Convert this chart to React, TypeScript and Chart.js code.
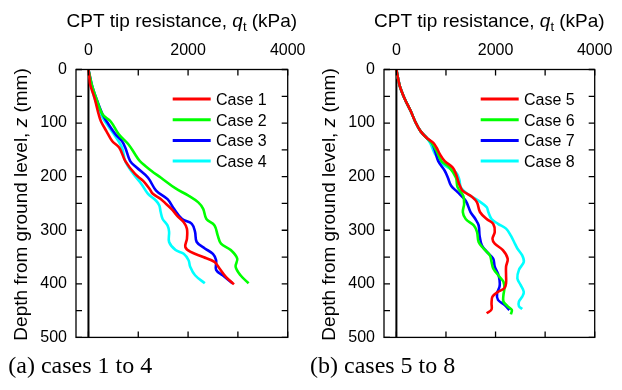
import React, { useEffect, useRef } from "react";
import { Chart, registerables } from "chart.js";

Chart.register(...registerables);

// ---------- axis definitions ----------
const xTickValues = [0, 2000, 4000];
const xMinorTicks = [0, 1000, 2000, 3000, 4000];
const yTickValues = [0, 100, 200, 300, 400, 500];
const yMinorTicks = [0, 50, 100, 150, 200, 250, 300, 350, 400, 450, 500];
const X_MIN = -250;
const X_MAX = 4000;
const Y_MIN = 0;
const Y_MAX = 500;

const xTitleText = "CPT tip resistance, ";
const xTitleVar = "q";
const xTitleSub = "t";
const xTitleUnit = " (kPa)";
const yTitleText = "Depth from ground level, ";
const yTitleVar = "z";
const yTitleUnit = " (mm)";

const captionA = "(a) cases 1 to 4";
const captionB = "(b) cases 5 to 8";

const seriesColors = ["#ff0000", "#00ff00", "#0000ff", "#00ffff"];
const labelsA = ["Case 1", "Case 2", "Case 3", "Case 4"];
const labelsB = ["Case 5", "Case 6", "Case 7", "Case 8"];

// ---------- panel (a) data: depth z (mm) and q_t (kPa) ----------
const case1Depth = [0, 15, 29, 53, 84, 97, 115, 134, 146, 171, 195, 208, 223, 232, 242, 251, 262, 273, 285, 297, 316, 331, 340, 350, 359, 371, 387, 401];
const case1Q = [0, 20, 37, 121, 206, 252, 360, 479, 620, 740, 935, 1098, 1229, 1293, 1456, 1560, 1684, 1782, 1913, 1977, 1977, 1944, 2042, 2304, 2530, 2628, 2759, 2921];

const case2Depth = [0, 29, 53, 84, 97, 121, 140, 158, 171, 189, 202, 222, 235, 248, 260, 279, 291, 310, 325, 337, 353, 368, 384, 399];
const case2Q = [0, 69, 154, 284, 447, 610, 805, 935, 1033, 1261, 1456, 1750, 2000, 2205, 2303, 2368, 2531, 2596, 2661, 2857, 2987, 2954, 3052, 3215];

const case3Depth = [0, 29, 53, 84, 99, 121, 134, 146, 171, 183, 202, 226, 242, 260, 279, 288, 303, 322, 334, 344, 356, 374, 384, 399];
const case3Q = [0, 69, 154, 284, 381, 545, 675, 740, 838, 968, 1196, 1358, 1587, 1717, 1880, 2075, 2140, 2173, 2336, 2499, 2563, 2563, 2694, 2889];

const case4Depth = [0, 29, 53, 84, 99, 121, 146, 171, 195, 214, 232, 245, 254, 266, 279, 291, 303, 322, 337, 344, 356, 368, 384, 399];
const case4Q = [0, 56, 121, 251, 349, 512, 675, 740, 903, 1066, 1196, 1358, 1423, 1450, 1489, 1587, 1619, 1619, 1749, 1912, 2010, 2042, 2140, 2336];

// ---------- panel (b) data ----------
const case5Depth = [0, 29, 53, 78, 99, 115, 128, 137, 146, 158, 171, 183, 195, 214, 226, 238, 248, 266, 279, 288, 303, 316, 325, 337, 353, 368, 384, 399, 408, 415, 424, 436, 448, 455];
const case5Q = [0, 63, 160, 291, 388, 486, 615, 746, 811, 877, 975, 1137, 1202, 1268, 1333, 1528, 1626, 1685, 1821, 1952, 1984, 1938, 1984, 2148, 2245, 2212, 2212, 2212, 2179, 2049, 1938, 1919, 1919, 1821];

const case6Depth = [0, 29, 53, 78, 99, 115, 128, 137, 152, 171, 183, 202, 220, 236, 251, 266, 279, 291, 303, 322, 334, 347, 359, 371, 387, 396, 408, 421, 433, 442, 449, 457];
const case6Q = [0, 63, 160, 291, 388, 486, 615, 714, 811, 909, 1072, 1202, 1235, 1350, 1366, 1340, 1398, 1561, 1626, 1659, 1756, 1886, 1919, 1952, 2081, 2159, 2179, 2159, 2159, 2245, 2329, 2309];

const case7Depth = [0, 29, 53, 78, 99, 115, 128, 137, 152, 171, 189, 202, 217, 229, 245, 266, 279, 291, 310, 328, 340, 353, 368, 381, 393, 405, 418, 430, 439, 449];
const case7Q = [0, 63, 160, 291, 388, 486, 615, 714, 780, 844, 975, 1039, 1104, 1235, 1398, 1495, 1593, 1659, 1678, 1723, 1821, 1952, 1984, 2049, 2081, 2081, 2030, 2049, 2179, 2277];

const case8Depth = [0, 29, 53, 78, 99, 115, 128, 137, 158, 177, 192, 205, 220, 232, 245, 257, 266, 279, 288, 297, 310, 322, 334, 347, 359, 374, 390, 402, 415, 424, 433, 442, 447];
const case8Q = [0, 63, 160, 291, 388, 486, 615, 681, 780, 942, 1202, 1268, 1300, 1430, 1659, 1821, 1854, 1919, 2049, 2212, 2309, 2374, 2440, 2538, 2570, 2472, 2440, 2505, 2570, 2538, 2472, 2472, 2538];

const SANS = "'Liberation Sans', Arial, sans-serif";
const SERIF = "'Liberation Serif', 'Times New Roman', serif";

type Series = { label: string; color: string; depth: number[]; q: number[] };

const seriesA: Series[] = [
  { label: labelsA[0], color: seriesColors[0], depth: case1Depth, q: case1Q },
  { label: labelsA[1], color: seriesColors[1], depth: case2Depth, q: case2Q },
  { label: labelsA[2], color: seriesColors[2], depth: case3Depth, q: case3Q },
  { label: labelsA[3], color: seriesColors[3], depth: case4Depth, q: case4Q },
];
const seriesB: Series[] = [
  { label: labelsB[0], color: seriesColors[0], depth: case5Depth, q: case5Q },
  { label: labelsB[1], color: seriesColors[1], depth: case6Depth, q: case6Q },
  { label: labelsB[2], color: seriesColors[2], depth: case7Depth, q: case7Q },
  { label: labelsB[3], color: seriesColors[3], depth: case8Depth, q: case8Q },
];

type Seg = { t: string; font: string; dy?: number };

function drawRich(ctx: CanvasRenderingContext2D, segs: Seg[], cx: number, baseY: number) {
  let total = 0;
  const widths = segs.map((s) => {
    ctx.font = s.font;
    const w = ctx.measureText(s.t).width;
    total += w;
    return w;
  });
  let x = cx - total / 2;
  ctx.textAlign = "left";
  ctx.textBaseline = "alphabetic";
  segs.forEach((s, i) => {
    ctx.font = s.font;
    ctx.fillText(s.t, x, baseY + (s.dy || 0));
    x += widths[i];
  });
}

const CA_LEFT = 76;
const CA_TOP = 69.5;
const CA_RIGHT = 293.6;
const CA_BOTTOM = 339.5;
const CANVAS_H = 356;

const framePlugin = {
  id: "cptFrame",
  beforeDatasetsDraw(chart: any) {
    const { ctx, chartArea, scales } = chart;
    const x0 = scales.x.getPixelForValue(0);
    ctx.save();
    ctx.strokeStyle = "#000";
    ctx.lineWidth = 2;
    ctx.beginPath();
    ctx.moveTo(x0, chartArea.top);
    ctx.lineTo(x0, chartArea.bottom);
    ctx.stroke();
    ctx.restore();
  },
  afterDraw(chart: any) {
    const { ctx, chartArea, scales } = chart;
    const { left, right, top, bottom } = chartArea;
    ctx.save();
    ctx.strokeStyle = "#000";
    ctx.lineWidth = 1.3;
    ctx.strokeRect(left, top, right - left, bottom - top);
    const tl = 6;
    ctx.beginPath();
    xMinorTicks.forEach((v) => {
      const px = scales.x.getPixelForValue(v);
      ctx.moveTo(px, top);
      ctx.lineTo(px, top + tl);
      ctx.moveTo(px, bottom);
      ctx.lineTo(px, bottom - tl);
    });
    yMinorTicks.forEach((v) => {
      const py = scales.y.getPixelForValue(v);
      ctx.moveTo(left, py);
      ctx.lineTo(left + tl, py);
      ctx.moveTo(right, py);
      ctx.lineTo(right - tl, py);
    });
    ctx.stroke();

    // titles
    ctx.fillStyle = "#000";
    drawRich(
      ctx,
      [
        { t: xTitleText, font: `19px ${SANS}` },
        { t: xTitleVar, font: `italic 19px ${SANS}` },
        { t: xTitleSub, font: `13px ${SANS}`, dy: 4.5 },
        { t: xTitleUnit, font: `19px ${SANS}` },
      ],
      (left + right) / 2,
      26.5
    );
    ctx.save();
    ctx.translate(27, (top + bottom) / 2 + 1);
    ctx.rotate(-Math.PI / 2);
    drawRich(
      ctx,
      [
        { t: yTitleText, font: `19px ${SANS}` },
        { t: yTitleVar, font: `italic 19px ${SANS}` },
        { t: yTitleUnit, font: `19px ${SANS}` },
      ],
      0,
      0
    );
    ctx.restore();

    // legend
    chart.data.datasets.forEach((ds: any, i: number) => {
      const ly = top + 29.5 + i * 20.7;
      ctx.strokeStyle = ds.borderColor;
      ctx.lineWidth = 3;
      ctx.beginPath();
      ctx.moveTo(left + 96.7, ly);
      ctx.lineTo(left + 134.7, ly);
      ctx.stroke();
      ctx.fillStyle = "#000";
      ctx.font = `16px ${SANS}`;
      ctx.textAlign = "left";
      ctx.textBaseline = "alphabetic";
      ctx.fillText(ds.label, left + 140, ly + 5.8);
    });
    ctx.restore();
  },
};

function Panel({ series, left, width }: { series: Series[]; left: number; width: number }) {
  const ref = useRef<HTMLCanvasElement | null>(null);
  useEffect(() => {
    if (!ref.current) return;
    const chart = new Chart(ref.current, {
      type: "line",
      data: {
        datasets: series.map((s) => ({
          label: s.label,
          data: s.depth.map((z, i) => ({ x: s.q[i], y: z })),
          borderColor: s.color,
          backgroundColor: s.color,
          borderWidth: 2.6,
          pointRadius: 0,
          tension: 0.35,
          fill: false,
        })),
      },
      options: {
        animation: false,
        responsive: false,
        events: [],
        layout: {
          padding: { left: 0, top: 0, right: width - CA_RIGHT, bottom: CANVAS_H - CA_BOTTOM },
        },
        plugins: { legend: { display: false }, tooltip: { enabled: false }, title: { display: false } },
        scales: {
          x: {
            type: "linear",
            position: "top",
            min: X_MIN,
            max: X_MAX,
            grid: { display: false, drawTicks: false },
            border: { display: false },
            ticks: {
              color: "#000",
              font: { family: SANS, size: 16 },
              padding: 9.5,
              autoSkip: false,
              maxRotation: 0,
              callback: (v: any) => String(v),
            },
            afterBuildTicks: (s: any) => {
              s.ticks = xTickValues.map((v) => ({ value: v }));
            },
            afterFit: (s: any) => {
              s.height = CA_TOP;
            },
          },
          y: {
            type: "linear",
            position: "left",
            reverse: true,
            min: Y_MIN,
            max: Y_MAX,
            grid: { display: false, drawTicks: false },
            border: { display: false },
            ticks: {
              color: "#000",
              font: { family: SANS, size: 16 },
              padding: 9,
              autoSkip: false,
              callback: (v: any) => String(v),
            },
            afterBuildTicks: (s: any) => {
              s.ticks = yTickValues.map((v) => ({ value: v }));
            },
            afterFit: (s: any) => {
              s.width = CA_LEFT;
            },
          },
        },
      } as any,
      plugins: [framePlugin],
    });
    return () => chart.destroy();
  }, [series, width]);
  return (
    <canvas
      ref={ref}
      width={width}
      height={CANVAS_H}
      style={{ position: "absolute", left, top: 0, width, height: CANVAS_H }}
    />
  );
}

export default function App() {
  const capStyle: React.CSSProperties = {
    position: "absolute",
    top: 352.9,
    font: `24px ${SERIF}`,
    lineHeight: 1,
    whiteSpace: "nowrap",
    color: "#000",
  };
  return (
    <div style={{ position: "absolute", left: 0, top: 0, width: 622, height: 390, background: "#fff", overflow: "hidden" }}>
      <Panel series={seriesA} left={0} width={315} />
      <Panel series={seriesB} left={308} width={314} />
      <div style={{ ...capStyle, left: 8.3 }}>{captionA}</div>
      <div style={{ ...capStyle, left: 310 }}>{captionB}</div>
    </div>
  );
}
